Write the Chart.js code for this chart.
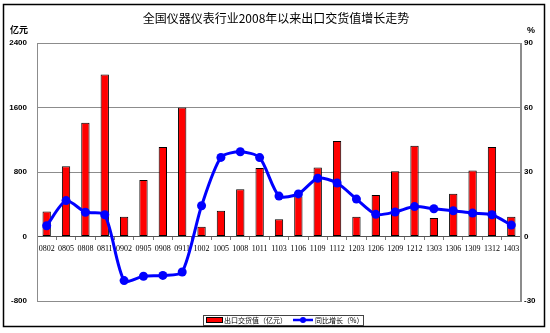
<!DOCTYPE html>
<html>
<head>
<meta charset="utf-8">
<script src="https://cdn.jsdelivr.net/npm/chart.js@4/dist/chart.umd.min.js"></script>
<style>
html,body{margin:0;padding:0;background:#fff;}
#wrap{width:550px;height:333px;position:relative;}
</style>
</head>
<body>
<div id="wrap"><canvas id="c" width="550" height="333"></canvas></div>
<script>
const title = "全国仪器仪表行业2008年以来出口交货值增长走势";
const leftUnit = "亿元";
const rightUnit = "%";
const categories = ["0802","0805","0808","0811","0902","0905","0908","0911","1002","1005","1008","1011","1103","1106","1109","1112","1203","1206","1209","1212","1303","1306","1309","1312","1403"];
const exportValue = [310,870,1410,2010,245,700,1110,1600,120,320,585,850,215,500,855,1185,245,515,810,1125,230,530,820,1110,245];
const yoyGrowth = [5.0,16.7,11.3,10.1,-20.5,-18.5,-18.1,-16.5,14.3,36.8,39.4,36.7,18.8,19.8,27.1,24.9,17.4,10.3,11.4,13.9,12.9,12.0,10.9,10.1,5.3];
const barLabel = "出口交货值（亿元）";
const lineLabel = "同比增长（%）";
const leftTicks = {min:-800, max:2400, step:800};
const rightTicks = {min:-30, max:90, step:30};

const deco = {
  id:'deco',
  afterDraw(chart){
    const ctx = chart.ctx;
    const a = chart.chartArea;
    ctx.save();
    ctx.strokeStyle = '#8c8c8c';
    ctx.lineWidth = 1;
    ctx.strokeRect(a.left+0.5, a.top+0.5, a.right-a.left-1, a.bottom-a.top);
    ctx.strokeStyle = '#000';
    ctx.lineWidth = 1.5;
    ctx.strokeRect(3.5, 4.5, 541, 322);
    ctx.fillStyle = '#000';
    ctx.textAlign = 'center';
    ctx.textBaseline = 'middle';
    ctx.font = '12px "Noto Sans CJK SC"';
    ctx.fillText(title, 276, 18);
    ctx.font = 'bold 9px "Noto Sans CJK SC"';
    ctx.fillText(leftUnit, 19, 30);
    ctx.font = 'bold 9px "Liberation Sans"';
    ctx.fillText(rightUnit, 531, 31);
    const lx = 203, ly = 315, lw = 160, lh = 10;
    ctx.fillStyle = '#fff';
    ctx.fillRect(lx, ly, lw, lh);
    ctx.strokeStyle = '#444';
    ctx.lineWidth = 1;
    ctx.strokeRect(lx+0.5, ly+0.5, lw, lh);
    ctx.fillStyle = '#ff0000';
    ctx.fillRect(206, 317, 17, 6);
    ctx.strokeStyle = '#000';
    ctx.strokeRect(206.5, 317.5, 16, 5);
    ctx.fillStyle = '#000';
    ctx.textAlign = 'left';
    ctx.font = '7px "Noto Sans CJK SC"';
    ctx.fillText(chart.data.datasets[1].label, 224, 320.5);
    ctx.strokeStyle = '#0000ff';
    ctx.lineWidth = 2.5;
    ctx.beginPath(); ctx.moveTo(293, 320); ctx.lineTo(313, 320); ctx.stroke();
    ctx.fillStyle = '#0000ff';
    ctx.beginPath(); ctx.arc(303, 320, 3, 0, Math.PI*2); ctx.fill();
    ctx.fillStyle = '#000';
    ctx.fillText(chart.data.datasets[0].label, 315, 320.5);
    ctx.restore();
  }
};

new Chart(document.getElementById('c'), {
  type:'bar',
  data:{
    labels:categories,
    datasets:[
      {type:'line', label:lineLabel, data:yoyGrowth, yAxisID:'y1', order:1,
       borderColor:'#0000ff', backgroundColor:'#0000ff', borderWidth:3,
       pointRadius:4.5, pointBackgroundColor:'#0000ff', pointBorderWidth:0,
       tension:0.25, clip:false},
      {type:'bar', label:barLabel, data:exportValue, yAxisID:'y', order:2,
       backgroundColor:'#ff0000', borderColor:'#000', borderWidth:1, borderSkipped:false,
       barPercentage:0.43, categoryPercentage:1}
    ]
  },
  options:{
    responsive:false,
    animation:false,
    events:[],
    layout:{padding:{top:43,bottom:32,left:0,right:0}},
    plugins:{legend:{display:false},title:{display:false},tooltip:{enabled:false}},
    scales:{
      x:{
        position:{y:0},
        offset:true,
        grid:{display:true, drawOnChartArea:false, drawTicks:true, tickLength:3, color:'#777', offset:true},
        border:{display:true, color:'#555', width:1},
        ticks:{autoSkip:false, maxRotation:0, minRotation:0, padding:5, color:'#000',
               font:{family:'"Liberation Serif"', size:8}}
      },
      y:{
        position:'left',
        min:leftTicks.min, max:leftTicks.max,
        afterFit(s){ s.width = 37; },
        grid:{color:'#8c8c8c', drawTicks:false},
        border:{display:true, color:'#8c8c8c'},
        ticks:{stepSize:leftTicks.step, padding:10, color:'#000', callback:v=>String(v),
               font:{family:'"Liberation Sans"', size:8, weight:'bold'}}
      },
      y1:{
        position:'right',
        min:rightTicks.min, max:rightTicks.max,
        afterFit(s){ s.width = 29; },
        grid:{drawOnChartArea:false, drawTicks:false},
        border:{display:true, color:'#8c8c8c'},
        ticks:{stepSize:rightTicks.step, padding:3, color:'#000', callback:v=>String(v),
               font:{family:'"Liberation Sans"', size:8, weight:'bold'}}
      }
    }
  },
  plugins:[deco]
});
</script>
</body>
</html>
